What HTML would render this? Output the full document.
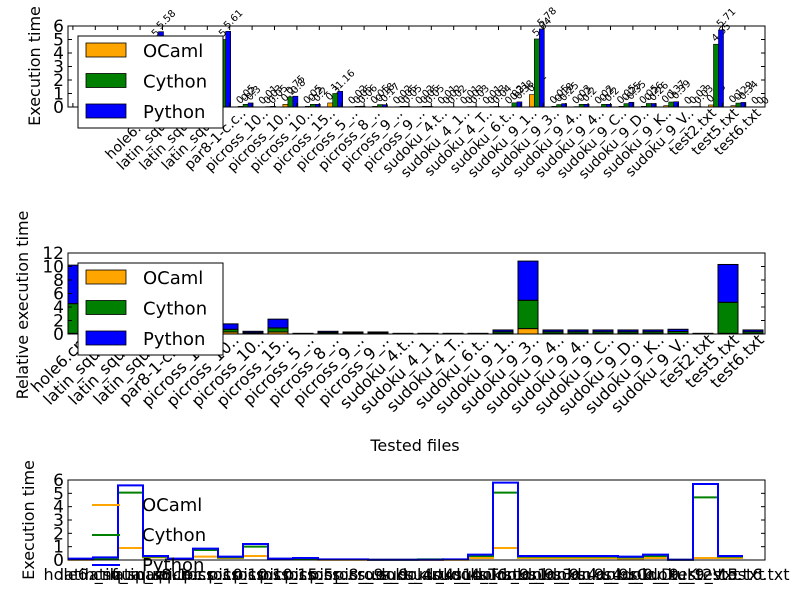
<!DOCTYPE html>
<html><head><meta charset="utf-8"><style>
body{margin:0;background:#fff;}
svg{display:block;font-family:"DejaVu Sans","Liberation Sans",sans-serif;}
</style></head><body>
<svg id="c" width="800" height="600" viewBox="0 0 800 600"></svg>
<script>
const categories=["hole6.cnf","latin_squa..","latin_squa..","latin_squa..","par8-1-c.c..","picross_10..","picross_10..","picross_10..","picross_15..","picross_5_..","picross_8_..","picross_9_..","picross_9_..","sudoku_4.t..","sudoku_4_1..","sudoku_4_T..","sudoku_6.t..","sudoku_9_1..","sudoku_9_3..","sudoku_9_4..","sudoku_9_4..","sudoku_9_C..","sudoku_9_D..","sudoku_9_K..","sudoku_9_V..","test2.txt","test5.txt","test6.txt"];
// top chart: execution time (grouped)
const topOcaml=[0.9,0.02,0.02,0.9,0.05,0.01,0.2,0.05,0.3,0.02,0.05,0.02,0.02,0.01,0.01,0.01,0.02,0.92,0.05,0.03,0.02,0.05,0.05,0.1,0.0,0.15,0.1,0];
const topCython=[5.0,0.05,0.05,5.0,0.2,0.03,0.75,0.2,1.0,0.05,0.18,0.05,0.05,0.02,0.03,0.03,0.31,5.04,0.18,0.2,0.2,0.25,0.26,0.37,0.03,4.65,0.29,0];
const topPython=[5.58,0.1,0.1,5.61,0.3,0.05,0.8,0.2,1.16,0.06,0.17,0.05,0.05,0.02,0.03,0.04,0.38,5.78,0.25,0.2,0.2,0.35,0.26,0.39,0.03,5.71,0.34,0];
const topTicks=[0,1,2,3,4,5,6];
// middle chart: relative execution time (stacked segments)
const midOcaml=[0.1,0.1,0.1,0.3,0.05,0.1,0.3,0.05,0.3,0.01,0.05,0.03,0.03,0.01,0.01,0.01,0.01,0.06,0.8,0.06,0.06,0.06,0.06,0.06,0.07,0.01,0.1,0.06];
const midCython=[4.4,4.5,0.5,4.7,0.2,0.3,0.4,0.15,0.6,0.05,0.17,0.13,0.13,0.05,0.05,0.05,0.05,0.27,4.2,0.27,0.27,0.27,0.27,0.27,0.3,0.05,4.6,0.27];
const midPython=[5.7,5.9,0.5,5.5,0.2,0.3,0.8,0.2,1.3,0.04,0.18,0.14,0.14,0.04,0.04,0.04,0.04,0.27,5.8,0.27,0.27,0.27,0.27,0.27,0.33,0.04,5.6,0.27];
const midTicks=[0,2,4,6,8,10,12];
// bottom chart: step lines
const botOcaml=[0.02,0.05,0.9,0.2,0.05,0.25,0.15,0.3,0.05,0.05,0.02,0.02,0.01,0.01,0.01,0.02,0.15,0.9,0.15,0.15,0.15,0.15,0.12,0.15,0.01,0.15,0.15];
const botCython=[0.05,0.1,5.05,0.25,0.08,0.75,0.2,1.0,0.08,0.1,0.04,0.04,0.02,0.02,0.05,0.04,0.3,5.05,0.25,0.25,0.25,0.25,0.2,0.3,0.02,4.7,0.25];
const botPython=[0.1,0.2,5.6,0.3,0.1,0.85,0.25,1.2,0.1,0.15,0.05,0.05,0.02,0.02,0.02,0.05,0.4,5.8,0.3,0.3,0.3,0.3,0.25,0.4,0.02,5.7,0.3];
const botTicks=[0,1,2,3,4,5,6];

const svg=document.getElementById('c');
const NS='http://www.w3.org/2000/svg';
function mk(tag,attrs,parent){const e=document.createElementNS(NS,tag);for(const k in attrs)e.setAttribute(k,attrs[k]);(parent||svg).appendChild(e);return e;}
const COL=['#ffa500','#008000','#0000ff'];
const L=68,R=765;

// ===== TOP =====
const tT=26,tB=107;
const ty=v=>tB-(v/6)*(tB-tT);
const tx=i=>156+22.4*i;
const gTop=mk('g',{});

const topSeries=[topOcaml,topCython,topPython];
topSeries.forEach((arr,s)=>{arr.forEach((v,i)=>{
  const x=tx(i)-7.5+s*5; if(x>R-1)return;
  const r=mk('rect',{x:x,y:ty(v),width:5,height:tB-ty(v),fill:COL[s],stroke:'#000','stroke-width':0.6},gTop);
  
  const t=mk('text',{x:x+2,y:ty(v)-2,'font-size':10,fill:'#000',transform:`rotate(-45 ${x+2} ${ty(v)-2})`},gTop);
  t.textContent=String(v);
  
});});
mk('rect',{x:L,y:tT,width:R-L,height:tB-tT,fill:'none',stroke:'#000','stroke-width':1},gTop);
topTicks.forEach(v=>{mk('line',{x1:L,x2:L+4,y1:ty(v),y2:ty(v),stroke:'#000'},gTop);mk('line',{x1:R,x2:R-4,y1:ty(v),y2:ty(v),stroke:'#000'},gTop);
  const t=mk('text',{x:L-4,y:ty(v)+6,'font-size':17,'text-anchor':'end'},gTop);t.textContent=v;
  });
for(let k=0;k<31;k++){const x=L+4.9+22.4*k;if(x>R)break;mk('line',{x1:x,x2:x,y1:tT,y2:tT+4,stroke:'#000'},gTop);mk('line',{x1:x,x2:x,y1:tB,y2:tB-4,stroke:'#000'},gTop);}
categories.forEach((c,i)=>{const x=tx(i)+1,y=114;const t=mk('text',{x:x,y:y,'font-size':14,'text-anchor':'end',transform:`rotate(-45 ${x} ${y})`},gTop);t.textContent=c;
  });
{const t=mk('text',{x:40,y:66,'font-size':16,'text-anchor':'middle',transform:'rotate(-90 40 66)'},gTop);t.textContent='Execution time';
 }
function legend(g,x,y,w,h,name){
  const lg=mk('g',{},g);
  mk('rect',{x:x,y:y,width:w,height:h,fill:'#fff',stroke:'#000','stroke-width':1},lg);
  ['OCaml','Cython','Python'].forEach((n,k)=>{const yy=y+16+k*30.5;
    mk('rect',{x:x+8,y:yy-9,width:40,height:14,fill:COL[k],stroke:'#000','stroke-width':0.8},lg);
    const t=mk('text',{x:x+65,y:yy+5,'font-size':18},lg);t.textContent=n;
    });
}
legend(gTop,78,36,145,92,'top-legend');

// ===== MIDDLE =====
const mT=253,mB=334;
const my=v=>mB-(v/12)*(mB-mT);
const mx=i=>L+25*i;
const gMid=mk('g',{});
midOcaml.forEach((o,i)=>{const segs=[o,midCython[i],midPython[i]];let base=0;
  segs.forEach((v,s)=>{const r=mk('rect',{x:mx(i),y:my(base+v),width:20,height:my(base)-my(base+v),fill:COL[s],stroke:'#000','stroke-width':1},gMid);
    base+=v;});});
mk('rect',{x:L,y:mT,width:R-L,height:mB-mT,fill:'none',stroke:'#000','stroke-width':1},gMid);
midTicks.forEach(v=>{mk('line',{x1:L,x2:L+4,y1:my(v),y2:my(v),stroke:'#000'},gMid);mk('line',{x1:R,x2:R-4,y1:my(v),y2:my(v),stroke:'#000'},gMid);
  const t=mk('text',{x:L-4,y:my(v)+6,'font-size':17,'text-anchor':'end'},gMid);t.textContent=v;
  });
categories.forEach((c,i)=>{const x=mx(i)+22,y=341;const t=mk('text',{x:x,y:y,'font-size':16,'text-anchor':'end',transform:`rotate(-45 ${x} ${y})`},gMid);t.textContent=c;
  });
{const t=mk('text',{x:28,y:305,'font-size':16,'text-anchor':'middle',transform:'rotate(-90 28 305)'},gMid);t.textContent='Relative execution time';
 
 const t2=mk('text',{x:415,y:451,'font-size':16,'text-anchor':'middle'},gMid);t2.textContent='Tested files';
 }
legend(gMid,78,263,145,92,'middle-legend');

// ===== BOTTOM =====
const bT=480,bB=560;
const by=v=>bB-(v/6)*(bB-bT);
const bx=i=>L+25*i;
const gBot=mk('g',{});
[botOcaml,botCython,botPython].forEach((arr,s)=>{let d='';
  arr.forEach((v,i)=>{d+=(i?'L':'M')+bx(i)+' '+by(v)+' L'+bx(i+1)+' '+by(v)+' ';});
  const p=mk('path',{d:d,fill:'none',stroke:COL[s],'stroke-width':2},gBot);
  });
mk('rect',{x:L,y:bT,width:R-L,height:bB-bT,fill:'none',stroke:'#000','stroke-width':1},gBot);
botTicks.forEach(v=>{mk('line',{x1:L,x2:L+4,y1:by(v),y2:by(v),stroke:'#000'},gBot);mk('line',{x1:R,x2:R-4,y1:by(v),y2:by(v),stroke:'#000'},gBot);
  const t=mk('text',{x:L-4,y:by(v)+6,'font-size':17,'text-anchor':'end'},gBot);t.textContent=v;
  });
categories.forEach((c,i)=>{const t=mk('text',{x:bx(i)+12.5,y:580,'font-size':16,'text-anchor':'middle'},gBot);t.textContent=c;
  });
{const t=mk('text',{x:34,y:520,'font-size':16,'text-anchor':'middle',transform:'rotate(-90 34 520)'},gBot);t.textContent='Execution time';
 }
const bl=mk('g',{},gBot);
['OCaml','Cython','Python'].forEach((n,k)=>{const yy=505+k*30;
  mk('line',{x1:92,x2:120,y1:yy,y2:yy,stroke:COL[k],'stroke-width':2},bl);
  const t=mk('text',{x:142,y:yy+6,'font-size':18},bl);t.textContent=n;
  });
</script>
</body></html>
